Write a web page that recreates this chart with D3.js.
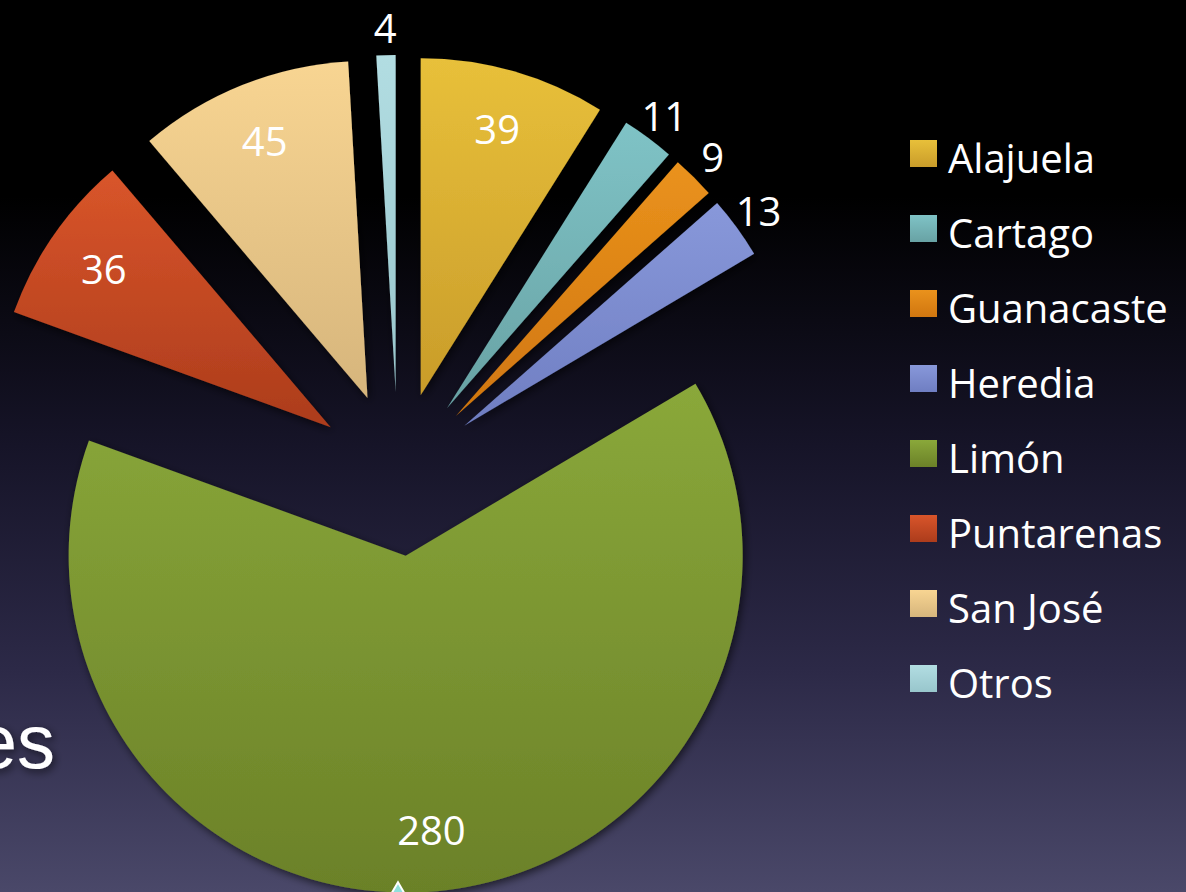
<!DOCTYPE html>
<html>
<head>
<meta charset="utf-8">
<script src="https://cdn.jsdelivr.net/npm/d3@7"></script>
<style>
  html, body { margin: 0; padding: 0; background: #000; }
  svg { display: block; }
  text { font-family: "Open Sans", Lato, sans-serif; }
</style>
</head>
<body>
<svg id="chart" width="1186" height="892"></svg>
<script>
// Provinces and counts, in the order drawn clockwise from 12 o'clock
const provinces = ['Alajuela', 'Cartago', 'Guanacaste', 'Heredia', 'Limón', 'Puntarenas', 'San José', 'Otros'];
const counts = [39, 11, 9, 13, 280, 36, 45, 4];
// top / bottom colour of each slice gradient
const topColors = ['#e8c03a', '#7fc3c6', '#ea921c', '#8898da', '#8aa83a', '#d9552a', '#f8d592', '#b2dde2'];
const bottomColors = ['#c99c2a', '#68a2a4', '#d07610', '#6f7ec2', '#6b8128', '#ac3c1c', '#d6b57c', '#98c6cc'];

const width = 1186;
const height = 892;
const center = { x: 398, y: 474 };
const radius = 337;
const explode = 82;

const svg = d3.select('#chart');
const defs = svg.append('defs');

// Slide background, black at the top fading into a dusky purple
const bg = defs.append('linearGradient')
  .attr('id', 'bg')
  .attr('x1', 0).attr('y1', 0).attr('x2', 0).attr('y2', 1);
[[0, '#000000'], [0.22, '#000000'], [0.5, '#161428'], [0.75, '#2c2947'], [1, '#4a4869']]
  .forEach(([o, c]) => bg.append('stop').attr('offset', o).attr('stop-color', c));

svg.append('rect')
  .attr('width', width)
  .attr('height', height)
  .attr('fill', 'url(#bg)');

// Soft shadow under the slices
const shadow = defs.append('filter')
  .attr('id', 'shadow')
  .attr('x', '-10%').attr('y', '-10%').attr('width', '120%').attr('height', '120%');
shadow.append('feDropShadow')
  .attr('dx', 2).attr('dy', 3).attr('stdDeviation', 4)
  .attr('flood-color', '#000').attr('flood-opacity', 0.6);

// Leftover of the slide title behind the chart
svg.append('text')
  .attr('x', 55)
  .attr('y', 768)
  .attr('text-anchor', 'end')
  .attr('fill', '#fff')
  .style('font-family', 'Liberation Sans, Arial, sans-serif')
  .style('font-size', '76px')
  .attr('filter', 'url(#shadow)')
  .text('es');

// One vertical gradient per slice
provinces.forEach((name, i) => {
  const g = defs.append('linearGradient')
    .attr('id', `grad-${i}`)
    .attr('x1', 0).attr('y1', 0).attr('x2', 0).attr('y2', 1);
  g.append('stop').attr('offset', 0).attr('stop-color', topColors[i]);
  g.append('stop').attr('offset', 1).attr('stop-color', bottomColors[i]);
});

const data = provinces.map((name, i) => ({ name, value: counts[i], index: i }));
const total = d3.sum(counts);

const pie = d3.pie()
  .sort(null)
  .value(d => d.value)
  .startAngle(0)
  .endAngle(2 * Math.PI);

const arc = d3.arc()
  .innerRadius(0)
  .outerRadius(radius);

const arcs = pie(data);

// Every slice is pulled out along its bisector
const offset = (d, dist) => {
  const mid = (d.startAngle + d.endAngle) / 2;
  return [Math.sin(mid) * dist, -Math.cos(mid) * dist];
};

const pieG = svg.append('g')
  .attr('transform', `translate(${center.x},${center.y})`);

const slices = pieG.selectAll('g.slice')
  .data(arcs)
  .enter().append('g')
  .attr('class', 'slice')
  .attr('transform', d => `translate(${offset(d, explode)})`);

slices.append('path')
  .attr('d', arc)
  .attr('fill', d => `url(#grad-${d.data.index})`)
  .attr('filter', 'url(#shadow)');

// Data labels: inside for wide slices, just outside for thin ones
slices.append('text')
  .attr('transform', d => {
    const inside = d.data.value / total > 0.05;
    const [x, y] = offset(d, radius * (inside ? 0.82 : 1.08));
    return `translate(${x},${y})`;
  })
  .attr('text-anchor', 'middle')
  .attr('dy', '0.36em')
  .attr('fill', '#fff')
  .style('font-size', '40px')
  .text(d => d.data.value);

// Small marker peeking in at the bottom edge
svg.append('path')
  .attr('d', d3.symbol(d3.symbolDiamond, 500)())
  .attr('transform', `translate(398,903)`)
  .attr('fill', '#8fe0dc')
  .attr('stroke', '#fff')
  .attr('stroke-width', 2);

// Legend
const legend = svg.append('g')
  .attr('class', 'legend')
  .attr('transform', 'translate(910,140)');

const rows = legend.selectAll('g.row')
  .data(data)
  .enter().append('g')
  .attr('class', 'row')
  .attr('transform', (d, i) => `translate(0,${i * 75})`);

rows.append('rect')
  .attr('width', 27)
  .attr('height', 27)
  .attr('fill', d => `url(#grad-${d.index})`);

rows.append('text')
  .attr('x', 38)
  .attr('y', 33)
  .attr('fill', '#fff')
  .style('font-size', '40px')
  .text(d => d.name);
</script>
</body>
</html>
